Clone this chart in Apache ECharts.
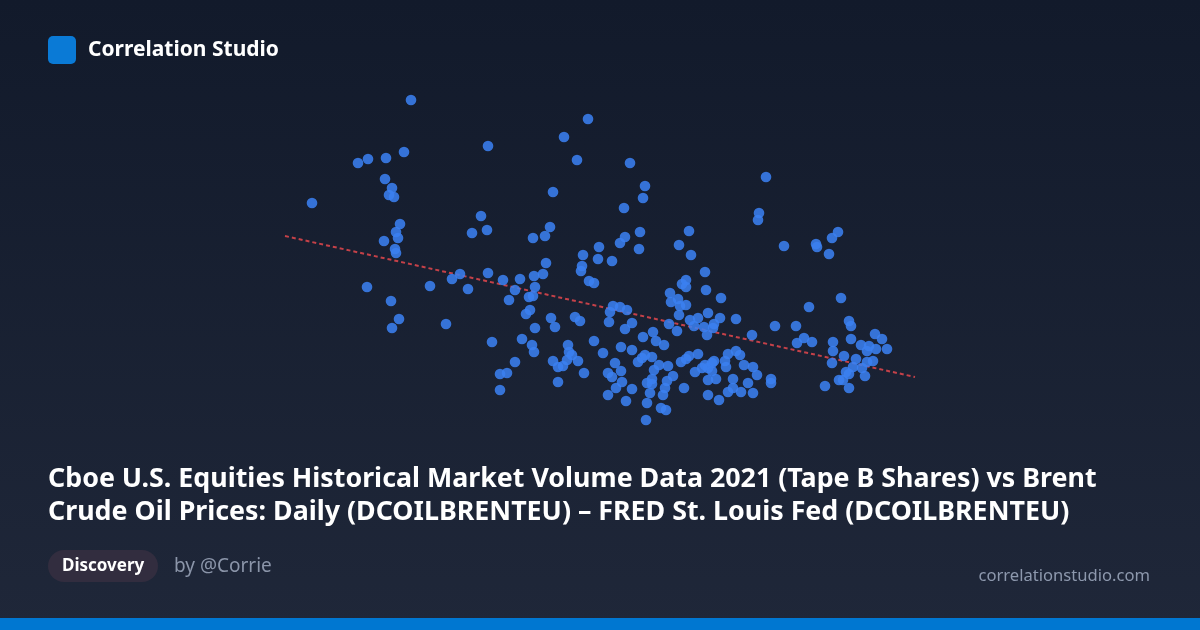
<!DOCTYPE html>
<html>
<head>
<meta charset="utf-8">
<script src="https://cdn.jsdelivr.net/npm/echarts@6/dist/echarts.min.js"></script>
<style>
html,body{margin:0;padding:0;width:1200px;height:630px;overflow:hidden;background:#151d2f;}
#chart{width:1200px;height:630px;}
</style>
</head>
<body>
<div id="chart"></div>
<script>
// x: Cboe Tape B volume (arbitrary units), y: Brent crude price (USD)
const tapeBVolume = [
13.1,20.8,7.8,8.8,10.6,12.4,10.5,11.2,10.9,11.4,3.2,20.1,20.7,19.2,12.0,11.6,11.8,10.4,11.5,11.6,
30.8,28.4,29.7,35.0,36.5,27.3,36.3,34.4,27.0,25.3,26.5,34.5,34.0,36.0,35.9,31.9,30.3,31.8,33.2,26.6,40.9,39.9,41.1,
48.6,47.9,47.8,50.4,53.6,53.7,55.2,55.8,54.9,
8.7,11.1,11.9,11.2,15.0,16.6,17.2,18.0,18.8,20.8,21.2,
22.3,24.0,25.4,26.3,25.5,23.5,22.9,24.9,25.3,25.0,24.6,25.5,27.1,27.5,24.2,25.2,25.4,23.5,22.0,22.7,22.0,27.8,27.3,27.8,28.3,
28.8,28.9,29.2,28.7,29.8,30.4,29.5,30.0,31.4,32.3,30.1,30.2,30.9,31.4,33.3,34.0,33.0,32.9,34.7,35.2,34.5,36.3,37.3,37.6,38.4,
34.1,35.2,33.5,34.1,32.8,33.2,34.2,33.6,32.8,34.6,35.2,35.8,36.5,37.2,37.9,37.4,38.8,36.7,37.2,37.0,36.7,36.6,38.1,38.6,38.3,
38.5,38.7,39.3,40.4,42.8,40.1,40.6,40.9,41.8,41.5,42.2,42.8,39.0,39.1,39.8,40.2,40.6,40.6,40.0,40.6,39.9,38.9,39.7,41.0,41.8,
41.4,42.4,42.7,42.5,42.6,42.8,36.2,37.2,42.5,42.8,43.2,43.4,43.2,43.6,43.9,
44.1,44.0,43.4,43.3,45.6,47.2,49.5,51.6,52.9,56.1,56.9,57.1,52.4,51.7,53.2,55.3,55.3,55.2,56.4,57.1,58.1,58.9,58.7,59.5,60.2,
60.7,59.6,57.6,58.7,59.3,57.3,58.2,58.5,56.6,56.9,55.9,56.3,54.5,56.9,44.5,44.6,44.8,45.6,46.0,46.4,47.3,47.7,45.3,46.8,49.1,
49.1,44.8,45.3,46.1,47.3
];
const brentPrice = [
83.0,78.4,76.7,77.1,77.2,77.8,75.1,74.2,73.5,73.3,72.7,71.4,70.0,69.7,70.6,69.8,69.2,68.9,68.1,67.7,
81.1,79.3,77.0,76.7,74.4,73.8,73.2,72.2,70.3,69.2,69.4,69.3,68.7,69.8,68.1,68.3,67.5,67.1,66.9,66.7,69.9,68.5,67.5,
75.3,71.7,71.0,68.4,68.6,68.3,69.2,69.8,67.6,
64.3,62.9,61.1,60.2,64.4,60.6,65.1,65.6,64.1,65.7,58.8,
65.0,65.1,65.4,65.6,64.3,64.0,63.0,63.3,63.4,62.0,61.6,60.2,61.2,60.3,59.1,58.5,57.8,56.8,55.6,55.7,54.0,54.8,56.9,56.3,56.4,
58.5,57.8,57.5,57.0,56.9,55.7,61.3,60.9,58.9,57.7,65.9,66.4,64.9,64.7,62.4,62.3,61.8,60.8,62.0,60.7,60.1,59.3,59.8,58.9,58.5,
58.3,58.0,56.7,55.9,55.7,55.3,54.8,54.2,53.5,52.9,54.1,56.8,57.5,57.3,56.5,56.0,56.4,54.7,54.6,53.7,52.7,51.0,52.2,52.0,53.5,
54.2,54.9,55.4,54.2,53.5,56.8,57.1,57.4,57.6,55.8,56.2,55.0,63.7,62.8,63.1,64.6,65.0,64.3,62.4,62.5,61.5,60.6,59.9,61.0,61.2,
60.4,60.3,59.5,65.8,64.0,61.7,57.2,55.1,56.5,56.2,56.7,56.9,55.9,55.1,53.0,
63.2,61.2,60.6,60.2,61.1,59.5,60.4,60.4,62.3,63.2,60.9,60.4,59.2,58.7,58.8,58.8,57.9,56.7,57.4,59.1,58.5,58.4,57.9,59.6,59.1,
58.1,58.1,57.1,56.8,56.9,56.3,56.2,55.4,55.8,55.6,55.0,55.0,54.4,54.2,56.9,56.3,57.6,57.9,57.5,56.5,56.3,55.5,55.1,54.7,55.1,
54.7,53.8,54.2,53.8,53.7
];
// fitted trend line end points
const trendX = [0.5, 63.5];
const trendY = [69.4, 55.3];

const titleLines = [
  'Cboe U.S. Equities Historical Market Volume Data 2021 (Tape B Shares) vs Brent',
  'Crude Oil Prices: Daily (DCOILBRENTEU) \u2013 FRED St. Louis Fed (DCOILBRENTEU)'
];
const brandName = 'Correlation Studio';
const tagLabel = 'Discovery';
const authorLabel = 'by @Corrie';
const siteLabel = 'correlationstudio.com';

const points = tapeBVolume.map((x, i) => [x, brentPrice[i]]);
const trend = trendX.map((x, i) => [x, trendY[i]]);

const font = '"Segoe UI", "Noto Sans", "Open Sans", sans-serif';
const chart = echarts.init(document.getElementById('chart'), null, {renderer: 'canvas'});
chart.setOption({
  animation: false,
  backgroundColor: {
    type: 'linear', x: 0, y: 0, x2: 0, y2: 1,
    colorStops: [{offset: 0, color: '#121a2b'}, {offset: 1, color: '#1f2739'}]
  },
  grid: {left: 280, top: 90, width: 640, height: 340},
  xAxis: {type: 'value', min: 0, max: 64, show: false, splitLine: {show: false}},
  yAxis: {type: 'value', min: 50, max: 84, show: false, splitLine: {show: false}},
  series: [
    {
      type: 'line', data: trend, symbol: 'none', z: 1,
      lineStyle: {color: '#d8454b', width: 2, type: [4, 3], opacity: 0.9}
    },
    {
      type: 'scatter', data: points, symbolSize: 10.6, z: 2,
      itemStyle: {color: '#3b80f0', opacity: 0.87}
    }
  ],
  graphic: [
    {type: 'rect', left: 48, top: 36, shape: {width: 28, height: 28, r: 5}, style: {fill: '#0a7ad6'}},
    {type: 'text', left: 88, top: 40, style: {text: brandName, fill: '#ffffff', font: 'bold 21px ' + font}},
    {type: 'text', left: 48, top: 466, style: {text: titleLines[0], fill: '#ffffff', font: 'bold 26.8px ' + font}},
    {type: 'text', left: 48, top: 499, style: {text: titleLines[1], fill: '#ffffff', font: 'bold 26.8px ' + font}},
    {type: 'rect', left: 48, top: 550, shape: {width: 110, height: 32, r: 16}, style: {fill: '#322d3f'}},
    {type: 'text', left: 62, top: 558, style: {text: tagLabel, fill: '#ffffff', font: 'bold 17px ' + font}},
    {type: 'text', left: 174, top: 557, style: {text: authorLabel, fill: '#8b95a9', font: '19px ' + font}},
    {type: 'text', right: 50, top: 568, style: {text: siteLabel, fill: '#8d98ad', font: '16.6px ' + font}},
    {type: 'rect', left: 0, top: 618, shape: {width: 1200, height: 12}, style: {fill: '#0077d1'}}
  ]
});
</script>
</body>
</html>
